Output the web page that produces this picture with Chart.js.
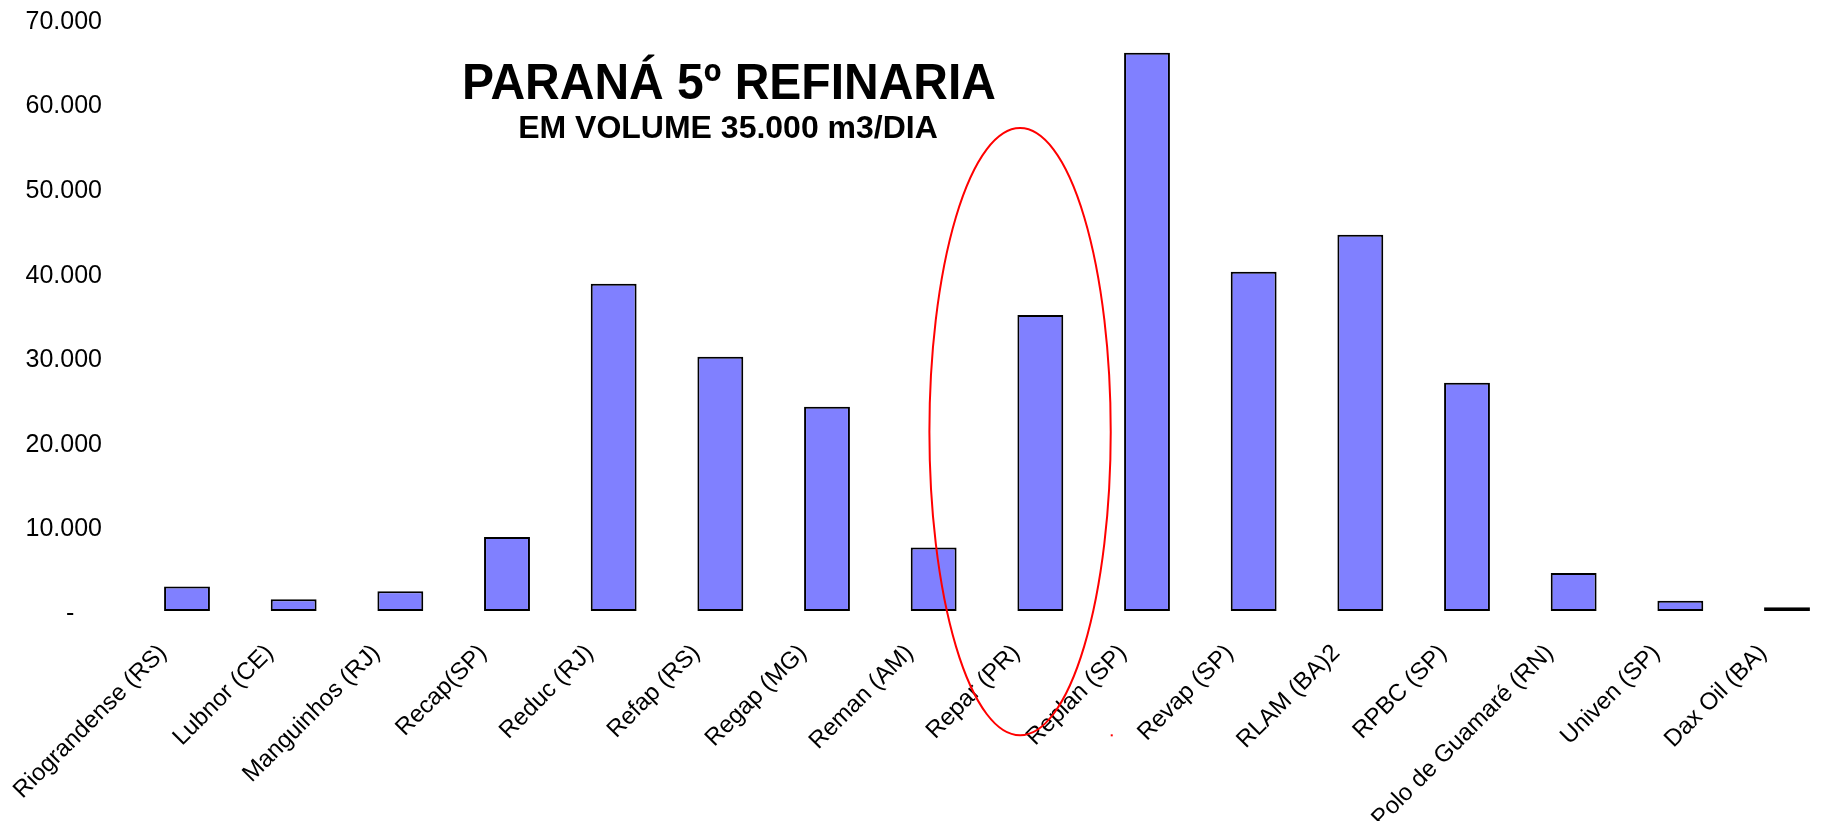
<!DOCTYPE html>
<html>
<head>
<meta charset="utf-8">
<script src="https://cdn.jsdelivr.net/npm/chart.js@4/dist/chart.umd.min.js"></script>
<style>
  html, body { margin: 0; padding: 0; background: #fff; }
  #wrap { width: 1822px; height: 821px; position: relative; }
</style>
</head>
<body>
<div id="wrap"><canvas id="refChart"></canvas></div>
<script>
// refinery names (x axis)
const refinarias = ['Riograndense (RS)', 'Lubnor (CE)', 'Manguinhos (RJ)', 'Recap(SP)', 'Reduc (RJ)',
    'Refap (RS)', 'Regap (MG)', 'Reman (AM)', 'Repar (PR)', 'Replan (SP)', 'Revap (SP)',
    'RLAM (BA)2', 'RPBC (SP)', 'Polo de Guamaré (RN)', 'Univen (SP)', 'Dax Oil (BA)'];

// volume m3/dia
const volumes = [2900, 1400, 2350, 8750, 38700, 30050, 24150, 7500, 35000, 66000, 40100,
    44500, 27000, 4500, 1200, 450];

const yMax = 70000;
const yStep = 10000;

const titleLine1 = 'PARANÁ 5º REFINARIA';
const titleLine2 = 'EM VOLUME 35.000 m3/DIA';

function fmtThousands(v) {
    if (v === 0) return '-    ';
    return String(v).replace(/\B(?=(\d{3})+(?!\d))/g, '.');
}

// --- title + red ellipse, drawn on top of the chart ---
const annotations = {
    id: 'annotations',
    afterDraw(chart) {
        const ctx = chart.ctx;
        const x = chart.scales.x;
        const y = chart.scales.y;
        const step = x.getPixelForValue(1) - x.getPixelForValue(0);

        ctx.save();
        ctx.fillStyle = '#000';
        ctx.textAlign = 'center';
        ctx.textBaseline = 'alphabetic';

        // first line is a bit condensed in the original
        ctx.save();
        ctx.translate(729, 99);
        ctx.scale(0.96, 1);
        ctx.font = 'bold 50px "Liberation Sans", Arial, sans-serif';
        ctx.fillText(titleLine1, 0, 0);
        ctx.restore();

        ctx.font = 'bold 32px "Liberation Sans", Arial, sans-serif';
        ctx.fillText(titleLine2, 728, 138);

        // highlight around Repar
        const cx = x.getPixelForValue(8) - 0.19 * step;
        const cy = y.getPixelForValue(21200);
        const rx = 0.85 * step;
        const ry = y.getPixelForValue(0) - y.getPixelForValue(35900);
        ctx.strokeStyle = '#ff0000';
        ctx.lineWidth = 2;
        ctx.beginPath();
        ctx.ellipse(cx, cy, rx, ry, 0, 0, Math.PI * 2);
        ctx.stroke();

        ctx.fillStyle = '#ff0000';
        ctx.fillRect(cx + rx, cy + ry - 1, 2, 2);
        ctx.restore();
    }
};

const ctx = document.getElementById('refChart').getContext('2d');
const chart = new Chart(ctx, {
    type: 'bar',
    data: {
        labels: refinarias,
        datasets: [{
            data: volumes,
            backgroundColor: '#8080ff',
            borderColor: '#000000',
            borderWidth: 2,
            borderSkipped: false,
            categoryPercentage: 1,
            barPercentage: 0.43,
            clip: false
        }]
    },
    options: {
        responsive: true,
        maintainAspectRatio: false,
        animation: false,
        layout: { padding: { top: 19, right: 35, left: 0, bottom: 0 } },
        plugins: {
            legend: { display: false },
            tooltip: { enabled: false },
            title: { display: false }
        },
        scales: {
            x: {
                offset: false,
                grid: { display: false, drawTicks: false, tickLength: 0 },
                border: { display: false },
                ticks: {
                    autoSkip: false,
                    minRotation: 45,
                    maxRotation: 45,
                    padding: 28,
                    labelOffset: -24,
                    color: '#000',
                    font: { family: '"Liberation Sans", Arial, sans-serif', size: 24 }
                },
                afterFit(scale) {
                    scale.height = 210;
                    scale.paddingLeft = 0;
                    scale.paddingRight = 0;
                }
            },
            y: {
                min: 0,
                max: yMax,
                grid: { display: false, drawTicks: false, tickLength: 0 },
                border: { display: false },
                ticks: {
                    stepSize: yStep,
                    padding: 85,
                    labelOffset: 3,
                    color: '#000',
                    font: { family: '"Liberation Sans", Arial, sans-serif', size: 25 },
                    callback: (v) => fmtThousands(v)
                },
                afterFit(scale) {
                    scale.width = 187;
                    // tick padding is only meant to push labels left, not to shrink the plot
                    scale.paddingTop = 0;
                    scale.paddingBottom = 0;
                }
            }
        }
    },
    plugins: [annotations]
});
</script>
</body>
</html>
